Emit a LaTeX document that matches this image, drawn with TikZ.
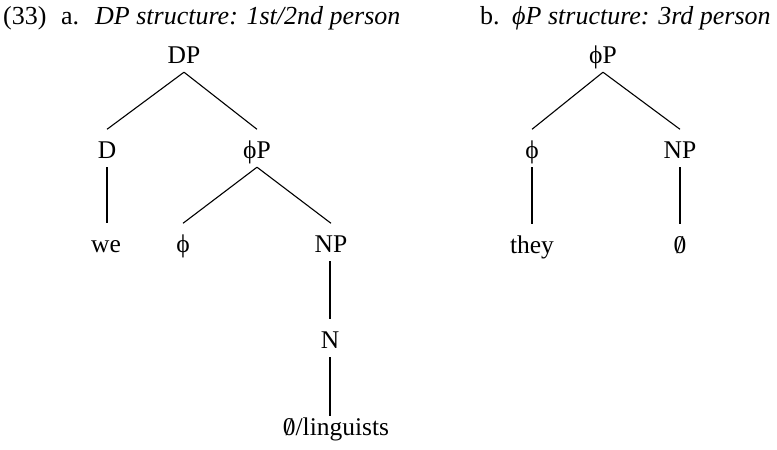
\documentclass[tikz,border=0pt]{standalone}
\usepackage{fontspec}
\setmainfont{Liberation Serif}
\newcommand\slz{{\ooalign{0\cr\hidewidth/\hidewidth\cr}}}
\newcommand\phisym{ϕ}
\begin{document}
\begin{tikzpicture}[x=1pt,y=-1pt,
  every node/.style={font=\fontsize{25.5}{30}\selectfont},
  tn/.style={anchor=base, inner xsep=0pt, inner ysep=0pt, text height=28.5pt, text depth=9pt},
  tt/.style={anchor=base west, inner sep=0pt, font=\fontsize{26}{30}\selectfont},
  br/.style={line width=1.1pt}]
\useasboundingbox (0,0) rectangle (777,450);
% titles
\node[tt] (n33) at (3,24) {(33)};
\node[tt] (la) at (61,24) {a.};
\node[tt] (ta) at (95,24) {\itshape DP structure: 1st/2nd person};
\node[tt] (lb) at (480,24) {b.};
\node[tt] (tb) at (512,24) {\itshape \phisym P structure: 3rd person};
% tree a
\node[tn] (DP) at (184,63) {DP};
\node[tn] (D) at (107,158) {D};
\node[tn] (phiP) at (257,158) {\phisym P};
\node[tn] (we) at (106,252) {we};
\node[tn] (phi) at (183,252) {\phisym};
\node[tn] (NP) at (331,252) {NP};
\node[tn] (N) at (330,348) {N};
\node[tn, text height=19pt] (lin) at (336,435) {\slz/linguists};
\draw[br] (DP.south) -- (D.north);
\draw[br] (DP.south) -- (phiP.north);
\draw[br] (D.south) -- (D.south |- we.north);
\draw[br] (phiP.south) -- (phi.north);
\draw[br] (phiP.south) -- (NP.north);
\draw[br] (N.north |- NP.south) -- (N.north);
\draw[br] (N.south) -- (N.south |- lin.north);
% tree b
\node[tn] (bphiP) at (603,63) {\phisym P};
\node[tn] (bphi) at (532,158) {\phisym};
\node[tn] (bNP) at (680,158) {NP};
\node[tn] (they) at (532,253) {they};
\node[tn] (bnull) at (680,253) {\slz};
\draw[br] (bphiP.south) -- (bphi.north);
\draw[br] (bphiP.south) -- (bNP.north);
\draw[br] (bphi.south) -- (they.north);
\draw[br] (bNP.south) -- (bnull.north);
\end{tikzpicture}
\end{document}
